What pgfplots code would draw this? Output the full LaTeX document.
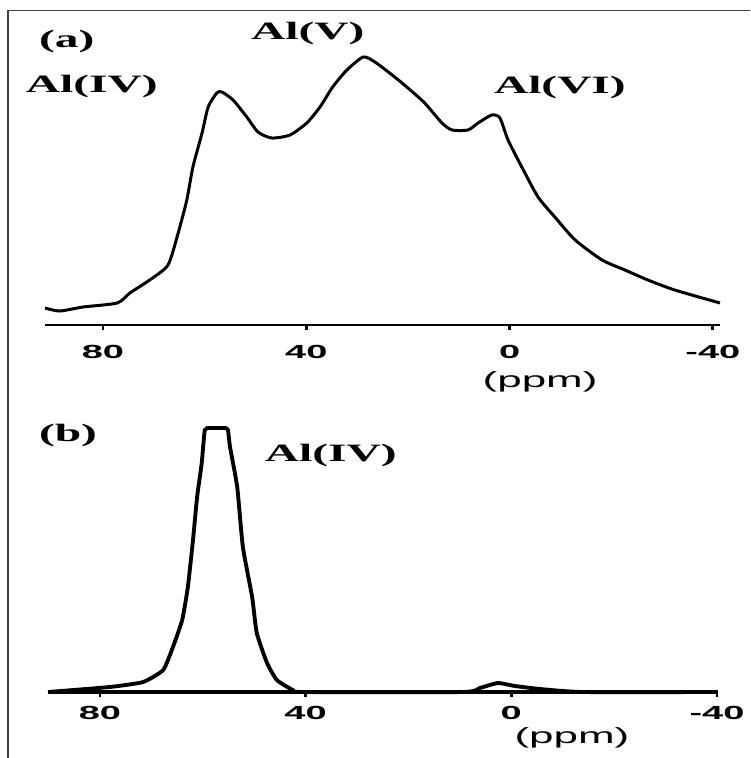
\documentclass[border=0pt]{standalone}
\usepackage{pgfplots}
\pgfplotsset{compat=1.18}
\usepackage{fontspec}
\setmainfont{Liberation Serif}
\newfontfamily\lblfont[FakeStretch=1.9]{Liberation Serif}
\newfontfamily\tckfont[FakeStretch=2.0]{Liberation Sans}
\newcommand{\lbl}{\lblfont\bfseries\fontsize{14.2}{16}\selectfont}
\newcommand{\tck}{\tckfont\bfseries\fontsize{10.8}{12}\selectfont}
\newcommand{\ppm}{\tckfont\fontsize{12.5}{14}\selectfont}

\pgfplotstableread{
ppm val
91.4 17
88.5 14
83.9 18
77.2 22
74.7 32
70.8 45
67.2 60
65.2 92
63.5 125
62.3 158
60.5 192
59.3 218
57.6 232
56.6 233
54.4 225
51.7 208
49.5 193
46.8 187
43.2 190
39.9 202
37.3 218
34.8 238
32.0 255
28.8 268
26.5 263
22.6 248
20.0 237
16.7 222
13.3 202
11.3 195
8.2 195
6.2 202
3.5 210
1.9 207
0.3 185
-2.4 158
-5.6 128
-8.9 108
-12.9 85
-18.2 65
-22.7 55
-27.2 45
-32.5 35
-41.4 22
}\spectA

\pgfplotstableread{
ppm val
90.1 0
78.1 5
71.6 10
67.7 22
65.8 45
64.0 72
62.9 105
61.9 152
61.1 195
60.2 229
59.6 262
58.6 264
57.2 264
55.7 264
55.1 262
54.7 245
53.3 205
52.2 145
50.4 95
49.5 59
47.5 29
45.6 12
42.5 2
40.5 0
9.4 0
6.1 4
2.6 9
-0.7 6
-5.6 3
-13.8 0
-40.2 0
}\spectB

\pgfplotsset{
  nmr/.style={
    scale only axis, clip=false, x dir=reverse,
    axis x line=bottom, axis y line=none, ytick=\empty,
    x axis line style={-, line width=1.7pt},
    xtick={80,40,0,-40}, xticklabels={80,40,0,-40},
    tick align=outside, major tick length=0.09cm,
    x tick style={line width=1.6pt, black},
    xticklabel style={font=\tck, inner sep=0pt, anchor=north},
  }
}

\begin{document}
\begin{tikzpicture}
\useasboundingbox (0,0) rectangle (15cm,-15.16cm);
\draw[line width=1.1pt, black!75] (0.16cm,-15.16cm) -- (0.16cm,-0.21cm) -- (15cm,-0.21cm);

\begin{axis}[nmr, at={(0.9cm,-6.5cm)}, anchor=south west,
  width=13.5cm, height=6.1cm, xmin=-41.4, xmax=91.4, ymin=0, ymax=305,
  xticklabel shift=0.3cm]
\addplot[black, line width=1.7pt, smooth, tension=0.4] table[x=ppm, y=val] {\spectA};
\node[font=\lbl] at (axis cs:87.1,283) {(a)};
\node[font=\lbl] at (axis cs:82.2,238) {Al(IV)};
\node[font=\lbl] at (axis cs:39.7,291) {Al(V)};
\node[font=\lbl] at (axis cs:-9.9,237) {Al(VI)};
\node[font=\ppm] at (axis cs:-6.0,-57) {(ppm)};
\end{axis}

\begin{axis}[nmr, at={(0.96cm,-13.84cm)}, anchor=south west,
  width=13.4cm, height=5.44cm, xmin=-40.2, xmax=90.1, ymin=0, ymax=272,
  xticklabel shift=0.18cm, x axis line style={line width=2pt}]
\addplot[black, line width=2.2pt, smooth, tension=0.3] table[x=ppm, y=val] {\spectB};
\node[font=\lbl] at (axis cs:86.2,257) {(b)};
\node[font=\lbl] at (axis cs:35.1,237) {Al(IV)};
\node[font=\ppm] at (axis cs:-11.8,-46) {(ppm)};
\end{axis}
\end{tikzpicture}
\end{document}
